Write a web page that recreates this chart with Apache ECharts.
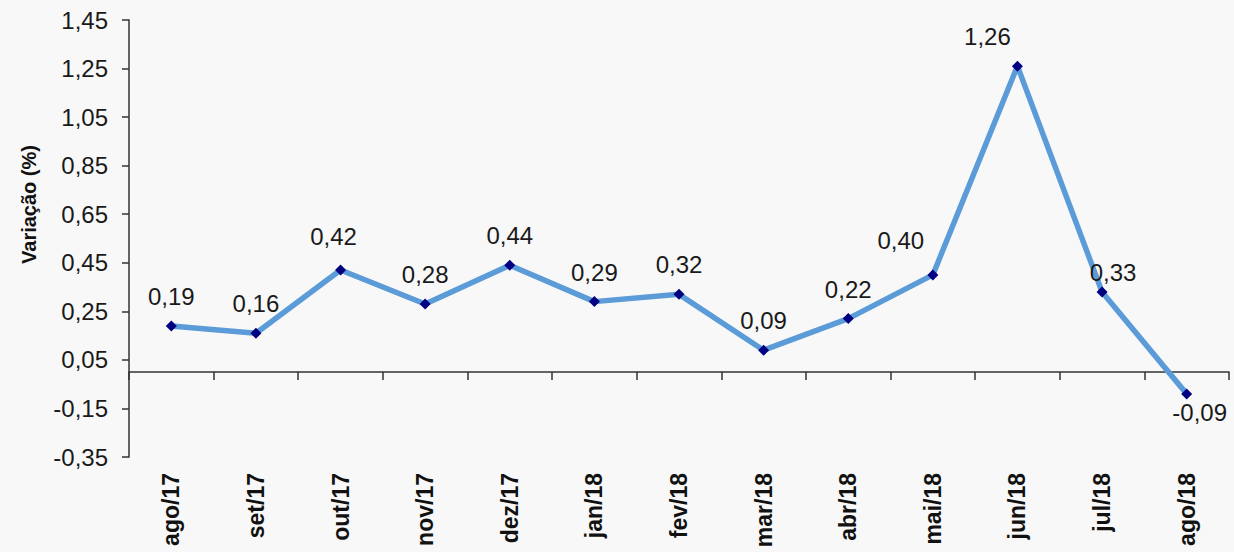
<!DOCTYPE html>
<html>
<head>
<meta charset="utf-8">
<script src="https://cdn.jsdelivr.net/npm/echarts@6/dist/echarts.min.js"></script>
<style>
  html, body { margin: 0; padding: 0; background: #f8f8f8; }
  #chart { width: 1234px; height: 552px; }
</style>
</head>
<body>
<div id="chart"></div>
<script>
const months = ["ago/17", "set/17", "out/17", "nov/17", "dez/17", "jan/18", "fev/18",
  "mar/18", "abr/18", "mai/18", "jun/18", "jul/18", "ago/18"];
const variacao = [0.19, 0.16, 0.42, 0.28, 0.44, 0.29, 0.32, 0.09, 0.22, 0.40, 1.26, 0.33, -0.09];

const fmt = v => Number(v).toFixed(2).replace(".", ",");

// a few labels are nudged in the original
const labelOffsets = { 2: [-7, -4], 9: [-32, -5], 10: [-30, 0], 11: [11, 10], 12: [13, 0] };

const points = variacao.map((v, i) => {
  const item = { value: v };
  const lbl = {};
  if (v < 0) { lbl.position = "bottom"; lbl.distance = 1; }
  if (labelOffsets[i]) lbl.offset = labelOffsets[i];
  if (Object.keys(lbl).length) item.label = lbl;
  return item;
});

const chart = echarts.init(document.getElementById("chart"), null, { renderer: "svg" });
chart.setOption({
  backgroundColor: "#f8f8f8",
  animation: false,
  grid: { left: 129, right: 5, top: 20, bottom: 95, containLabel: false, outerBoundsMode: "none" },
  xAxis: {
    type: "category",
    data: months,
    boundaryGap: true,
    axisLine: { onZero: true, lineStyle: { color: "#333", width: 1.5 } },
    axisTick: { show: true, length: 8, lineStyle: { color: "#333", width: 1.5 } },
    axisLabel: {
      rotate: 90,
      margin: 16,
      color: "#111",
      fontFamily: "Liberation Sans, Arial",
      fontWeight: "bold",
      fontSize: 23
    }
  },
  yAxis: {
    type: "value",
    min: -0.35,
    max: 1.45,
    interval: 0.2,
    name: "Variação (%)",
    nameLocation: "middle",
    nameGap: 90,
    nameTextStyle: {
      fontFamily: "Liberation Sans, Arial", fontWeight: "bold", fontSize: 20, color: "#111",
      padding: [0, 0, 0, 68]
    },
    splitLine: { show: false },
    axisLine: { show: true, lineStyle: { color: "#333", width: 1.5 } },
    axisTick: { show: true, length: 7, lineStyle: { color: "#333", width: 1.5 } },
    axisLabel: {
      margin: 21,
      color: "#1a1a1a",
      fontFamily: "Liberation Sans, Arial",
      fontSize: 24,
      formatter: fmt
    }
  },
  series: [{
    type: "line",
    data: points,
    symbol: "diamond",
    symbolSize: 11,
    itemStyle: { color: "#000080" },
    lineStyle: { color: "#5b9bd8", width: 5.5 },
    label: {
      show: true,
      position: "top",
      distance: 12,
      color: "#1a1a1a",
      fontFamily: "Liberation Sans, Arial",
      fontSize: 24,
      formatter: p => fmt(p.value)
    }
  }]
});
</script>
</body>
</html>
